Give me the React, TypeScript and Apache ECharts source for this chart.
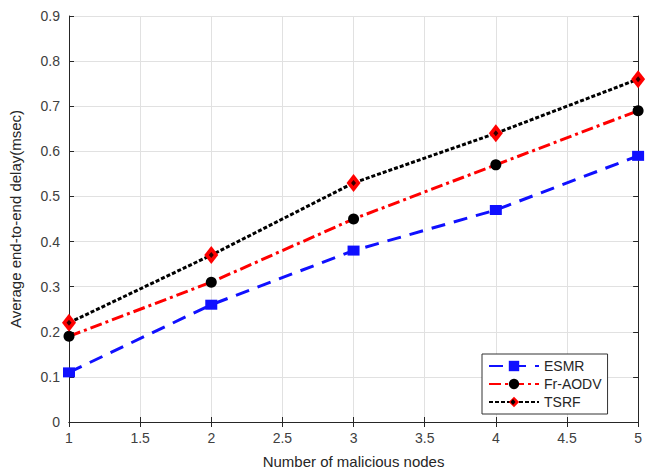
import React, { useEffect, useRef } from "react";
import * as echarts from "echarts";

const xValues = [1, 2, 3, 4, 5];
const esmr = [0.11, 0.26, 0.38, 0.47, 0.59];
const frAodv = [0.19, 0.31, 0.45, 0.57, 0.69];
const tsrf = [0.22, 0.37, 0.53, 0.64, 0.76];
const seriesNames = ["ESMR", "Fr-AODV", "TSRF"];
const xAxisTitle = "Number of malicious nodes";
const yAxisTitle = "Average end-to-end delay(msec)";

const FONT = "'Liberation Sans', Arial, sans-serif";

export default function App() {
  const ref = useRef<HTMLDivElement>(null);
  useEffect(() => {
    if (!ref.current) return;
    const chart = echarts.init(ref.current, null, { renderer: "svg" });
    const pair = (vals: number[]) => xValues.map((x, i) => [x, vals[i]]);
    const gridLine = { show: true, lineStyle: { color: "#e1e1e1", width: 1 } };
    const axisLine = { show: true, lineStyle: { color: "#262626", width: 1 } };
    const legendCx = 513;
    const legendCy = 402;
    chart.setOption({
      animation: false,
      backgroundColor: "#ffffff",
      textStyle: { fontFamily: FONT },
      grid: { left: 66, right: 3, top: 16, bottom: 46, containLabel: false },
      xAxis: [
        {
          type: "value",
          min: 1,
          max: 5,
          interval: 0.5,
          name: xAxisTitle,
          nameLocation: "middle",
          nameGap: 32,
          nameTextStyle: { fontSize: 15, color: "#262626", fontFamily: FONT },
          axisLine,
          axisTick: { show: true, inside: true, length: 5, lineStyle: { color: "#262626" } },
          axisLabel: { fontSize: 14, color: "#404040", margin: 9, fontFamily: FONT },
          splitLine: gridLine,
        },
        {
          type: "value",
          position: "top",
          min: 1,
          max: 5,
          interval: 0.5,
          axisLine,
          axisTick: { show: true, inside: true, length: 5, lineStyle: { color: "#262626" } },
          axisLabel: { show: false },
          splitLine: { show: false },
        },
      ],
      yAxis: [
        {
          type: "value",
          min: 0,
          max: 0.9,
          interval: 0.1,
          name: yAxisTitle,
          nameLocation: "middle",
          nameGap: 46,
          nameTextStyle: { fontSize: 15, color: "#262626", fontFamily: FONT },
          axisLine,
          axisTick: { show: true, inside: true, length: 5, lineStyle: { color: "#262626" } },
          axisLabel: { fontSize: 14, color: "#404040", margin: 9, fontFamily: FONT },
          splitLine: gridLine,
        },
        {
          type: "value",
          position: "right",
          min: 0,
          max: 0.9,
          interval: 0.1,
          axisLine,
          axisTick: { show: true, inside: true, length: 5, lineStyle: { color: "#262626" } },
          axisLabel: { show: false },
          splitLine: { show: false },
        },
      ],
      legend: {
        data: seriesNames,
        orient: "vertical",
        left: 482,
        top: 354,
        padding: [5, 6, 5, 6],
        itemWidth: 50,
        itemHeight: 13,
        itemGap: 4,
        borderColor: "#333333",
        borderWidth: 1,
        borderRadius: 0,
        backgroundColor: "#ffffff",
        textStyle: { fontSize: 14, color: "#262626", fontFamily: FONT },
      },
      graphic: [
        {
          type: "polygon",
          z: 200,
          silent: true,
          shape: {
            points: [
              [legendCx, legendCy - 3],
              [legendCx + 2.5, legendCy],
              [legendCx, legendCy + 3],
              [legendCx - 2.5, legendCy],
            ],
          },
          style: { fill: "#000000" },
        },
      ],
      series: [
        {
          name: "ESMR",
          type: "line",
          data: pair(esmr),
          symbol: "rect",
          symbolSize: [12, 10],
          lineStyle: { color: "#1010ff", width: 3, type: [14, 9] },
          itemStyle: { color: "#1010ff" },
          z: 3,
        },
        {
          name: "Fr-AODV",
          type: "line",
          data: pair(frAodv),
          symbol: "circle",
          symbolSize: 11,
          lineStyle: { color: "#ff0000", width: 3, type: [12, 4, 3, 4] },
          itemStyle: { color: "#000000" },
          z: 4,
        },
        {
          name: "TSRF",
          type: "line",
          data: pair(tsrf),
          symbol: "diamond",
          symbolSize: [14, 18],
          lineStyle: { color: "#000000", width: 3, type: [4, 2] },
          itemStyle: { color: "#ff0000" },
          z: 5,
        },
        {
          name: "TSRF-center",
          type: "scatter",
          data: pair(tsrf),
          symbol: "diamond",
          symbolSize: [5, 6],
          itemStyle: { color: "#000000" },
          silent: true,
          z: 6,
        },
      ],
    });
    return () => chart.dispose();
  }, []);
  return <div ref={ref} style={{ width: 645, height: 474, position: "absolute", left: 0, top: 0 }} />;
}
